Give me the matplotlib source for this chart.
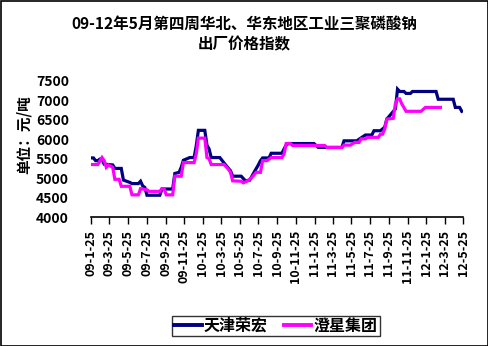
import pandas as pd
import matplotlib
matplotlib.use("Agg")
import matplotlib.pyplot as plt
from matplotlib.patches import Rectangle

plt.rcParams['font.family'] = ['Noto Sans CJK SC', 'DejaVu Sans']

title = '09-12年5月第四周华北、华东地区工业三聚磷酸钠\n出厂价格指数'
ylabel = '单位：元/吨'
series_names = ['天津荣宏', '澄星集团']

# 天津荣宏 (转折点)
tj_dates = ['2009-01-25', '2009-02-01', '2009-02-08', '2009-02-15', '2009-02-22', '2009-03-01',
            '2009-03-08', '2009-04-05', '2009-04-12', '2009-05-03', '2009-05-10', '2009-05-31',
            '2009-06-07', '2009-06-28', '2009-07-05', '2009-07-12', '2009-07-19', '2009-07-26',
            '2009-09-06', '2009-09-13', '2009-10-18', '2009-10-25', '2009-11-08', '2009-11-15',
            '2009-11-22', '2009-12-13', '2009-12-27', '2010-01-03', '2010-01-10', '2010-01-31',
            '2010-02-07', '2010-02-14', '2010-02-21', '2010-03-21', '2010-04-11', '2010-04-25',
            '2010-05-02', '2010-05-30', '2010-06-13', '2010-06-27', '2010-07-11', '2010-07-25',
            '2010-08-01', '2010-08-08', '2010-08-29', '2010-09-05', '2010-10-10', '2010-10-17',
            '2010-10-24', '2010-10-31', '2011-01-23', '2011-02-06', '2011-04-24', '2011-05-01',
            '2011-06-12', '2011-06-19', '2011-07-10', '2011-07-31', '2011-08-07', '2011-08-28',
            '2011-09-11', '2011-09-18', '2011-10-02', '2011-10-16', '2011-10-23', '2011-10-30',
            '2011-11-13', '2011-11-20', '2011-12-04', '2011-12-11', '2012-02-26', '2012-03-04',
            '2012-04-22', '2012-04-29', '2012-05-13', '2012-05-20']
tj_values = [5520, 5520, 5450, 5450, 5490, 5490,
             5360, 5340, 5250, 5250, 4950, 4890,
             4860, 4860, 4920, 4800, 4760, 4560,
             4560, 4720, 4720, 5120, 5150, 5280,
             5460, 5530, 5530, 5830, 6230, 6230,
             5850, 5750, 5530, 5530, 5320, 5190,
             5050, 5050, 4930, 4950, 5150, 5340,
             5450, 5520, 5520, 5640, 5640, 5750,
             5850, 5890, 5890, 5790, 5790, 5960,
             5960, 6000, 6110, 6110, 6220, 6220,
             6310, 6520, 6650, 6780, 7290, 7230,
             7230, 7180, 7180, 7230, 7230, 7030,
             7030, 6820, 6820, 6720]

# 澄星集团 (转折点)
cx_dates = ['2009-01-25', '2009-02-15', '2009-03-01', '2009-03-08', '2009-03-15', '2009-03-22',
            '2009-04-05', '2009-04-12', '2009-04-26', '2009-05-03', '2009-05-31', '2009-06-07',
            '2009-06-28', '2009-07-05', '2009-07-26', '2009-08-02', '2009-09-06', '2009-09-13',
            '2009-09-20', '2009-09-27', '2009-10-18', '2009-10-25', '2009-11-15', '2009-11-22',
            '2009-12-27', '2010-01-03', '2010-01-10', '2010-01-31', '2010-02-07', '2010-02-14',
            '2010-02-21', '2010-04-04', '2010-04-18', '2010-04-25', '2010-05-02', '2010-05-30',
            '2010-06-06', '2010-06-20', '2010-07-04', '2010-07-18', '2010-08-01', '2010-08-08',
            '2010-08-22', '2010-09-05', '2010-10-10', '2010-10-17', '2010-10-24', '2010-11-07',
            '2010-11-14', '2011-02-27', '2011-03-06', '2011-04-24', '2011-05-01', '2011-05-22',
            '2011-06-05', '2011-06-19', '2011-06-26', '2011-07-10', '2011-07-17', '2011-08-21',
            '2011-08-28', '2011-09-04', '2011-09-11', '2011-09-18', '2011-10-09', '2011-10-16',
            '2011-10-23', '2011-10-30', '2011-11-06', '2011-11-20', '2012-01-08', '2012-01-22',
            '2012-03-11']
cx_values = [5350, 5350, 5530, 5450, 5280, 5340,
             5280, 4970, 4970, 4790, 4790, 4570,
             4570, 4730, 4700, 4660, 4660, 4730,
             4730, 4570, 4570, 5050, 5050, 5400,
             5400, 5620, 6030, 6030, 5530, 5500,
             5350, 5350, 5230, 5150, 4930, 4920,
             4880, 4930, 5020, 5150, 5150, 5450,
             5450, 5530, 5530, 5620, 5890, 5890,
             5840, 5840, 5790, 5790, 5850, 5850,
             5920, 5920, 6010, 6010, 6050, 6050,
             6130, 6130, 6260, 6520, 6540, 6910,
             7040, 7040, 6910, 6720, 6720, 6820,
             6820]

xtick_labels = ['09-1-25', '09-3-25', '09-5-25', '09-7-25', '09-9-25', '09-11-25',
                '10-1-25', '10-3-25', '10-5-25', '10-7-25', '10-9-25', '10-11-25',
                '11-1-25', '11-3-25', '11-5-25', '11-7-25', '11-9-25', '11-11-25',
                '12-1-25', '12-3-25', '12-5-25']
yticks = [4000, 4500, 5000, 5500, 6000, 6500, 7000, 7500]

W, H = 489, 346
fig = plt.figure(figsize=(W / 100, H / 100), dpi=100)
fig.patch.set_facecolor('white')
fig.add_artist(Rectangle((0.5 / W, 0.5 / H), 1 - 1.5 / W, 1 - 1.5 / H, transform=fig.transFigure,
                         fill=False, edgecolor='black', linewidth=1.2))

ax = fig.add_axes([91.3 / W, 1 - 217 / H, (463.3 - 91.3) / W, (217 - 81) / H])

tick_pos = pd.to_datetime(['20' + s for s in xtick_labels], format='%Y-%m-%d')
ax.plot(pd.to_datetime(tj_dates), tj_values, color='#000080', lw=2.3, label=series_names[0],
        solid_joinstyle='miter')
ax.plot(pd.to_datetime(cx_dates), cx_values, color='#FF00FF', lw=2.3, label=series_names[1],
        solid_joinstyle='miter')

ax.set_xlim(tick_pos[0], tick_pos[-1])
ax.set_ylim(4000, 7500)
ax.set_yticks(yticks)
ax.set_yticklabels([str(v) for v in yticks], fontsize=10, fontweight='bold')
ax.set_xticks(tick_pos)
ax.set_xticklabels(xtick_labels, rotation=90, fontsize=9, fontweight='bold')
ax.tick_params(axis='y', length=0, pad=16)
ax.tick_params(axis='x', direction='out', length=5, width=1, pad=4)
for s in ['top', 'right', 'left']:
    ax.spines[s].set_visible(False)
ax.spines['bottom'].set_linewidth(1.2)

fig.text(0.5, 1 - 34 / H, title, ha='center', va='center', fontsize=11.2, fontweight='bold',
         linespacing=1.3)
fig.text(24 / W, 1 - 135 / H, ylabel, ha='center', va='center', rotation=90, fontsize=10.5,
         fontweight='bold')

leg = fig.legend(loc='center', bbox_to_anchor=(276 / W, 1 - 326 / H), ncol=2, frameon=True,
                 fancybox=False, edgecolor='black', prop={'size': 11.5, 'weight': 'bold'},
                 handlelength=1.7, handletextpad=0.15, columnspacing=1.0, borderpad=0.15,
                 borderaxespad=0)
leg.get_frame().set_linewidth(1.0)
for line in leg.get_lines():
    line.set_linewidth(2.8)

fig.savefig('out.png', dpi=100)
